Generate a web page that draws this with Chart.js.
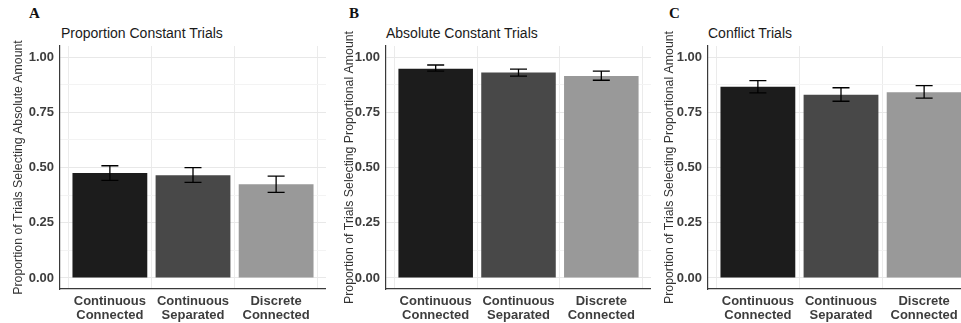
<!DOCTYPE html>
<html>
<head>
<meta charset="utf-8">
<script src="https://cdn.jsdelivr.net/npm/chart.js@4"></script>
<style>
  body { margin: 0; width: 961px; height: 323px; overflow: hidden; background: #fff; position: relative; font-family: "Liberation Sans", Arial, sans-serif; }
  canvas { position: absolute; top: 0; }
  .letter { position: absolute; top: 5px; font-family: "Liberation Serif", serif; font-weight: bold; font-size: 15px; color: #111; }
  .title { position: absolute; top: 25px; font-size: 14px; color: #1a1a1a; white-space: nowrap; }
</style>
</head>
<body>
<div class="letter" style="left:29px">A</div>
<div class="letter" style="left:349px">B</div>
<div class="letter" style="left:669px">C</div>
<div class="title" style="left:61px">Proportion Constant Trials</div>
<div class="title" style="left:386px">Absolute Constant Trials</div>
<div class="title" style="left:708px">Conflict Trials</div>
<canvas id="chartA" width="326" height="323" style="left:0px"></canvas>
<canvas id="chartB" width="325" height="323" style="left:326px"></canvas>
<canvas id="chartC" width="323" height="323" style="left:651px"></canvas>
<script>
// categories and values
const categories = [['Continuous', 'Connected'], ['Continuous', 'Separated'], ['Discrete', 'Connected']];
const barColors = ['#1c1c1c', '#484848', '#999999'];

const propConstantMeans = [0.475, 0.465, 0.424];
const propConstantLow = [0.442, 0.433, 0.387];
const propConstantHigh = [0.508, 0.499, 0.461];

const absConstantMeans = [0.947, 0.930, 0.914];
const absConstantLow = [0.936, 0.914, 0.895];
const absConstantHigh = [0.964, 0.945, 0.936];

const conflictMeans = [0.865, 0.829, 0.841];
const conflictLow = [0.838, 0.800, 0.814];
const conflictHigh = [0.893, 0.861, 0.871];

const majorTicks = [0, 0.25, 0.5, 0.75, 1];
const minorTicks = [0.125, 0.375, 0.625, 0.875];

// draws the error bars on top of the bars
const errorBars = {
    id: 'errorBars',
    afterDatasetsDraw(chart, args, opts) {
        const { ctx, scales: { x, y } } = chart;
        ctx.save();
        ctx.strokeStyle = '#000';
        ctx.lineWidth = 1.3;
        opts.low.forEach((lo, i) => {
            const px = x.getPixelForValue(i + 1);
            const yl = y.getPixelForValue(lo);
            const yh = y.getPixelForValue(opts.high[i]);
            ctx.beginPath();
            ctx.moveTo(px, yl); ctx.lineTo(px, yh);
            ctx.moveTo(px - 8.5, yl); ctx.lineTo(px + 8.5, yl);
            ctx.moveTo(px - 8.5, yh); ctx.lineTo(px + 8.5, yh);
            ctx.stroke();
        });
        ctx.restore();
    }
};

function makePanel(id, yTitle, means, low, high, axisWidth, titlePad) {
    const ctx = document.getElementById(id).getContext('2d');
    return new Chart(ctx, {
        type: 'bar',
        data: {
            datasets: [{
                data: means.map((v, i) => ({ x: i + 1, y: v })),
                backgroundColor: barColors,
                borderWidth: 0,
                barPercentage: 0.9,
                categoryPercentage: 1.0
            }]
        },
        options: {
            responsive: false,
            animation: false,
            devicePixelRatio: 1,
            layout: { padding: { top: 46, left: 0, right: 0, bottom: 0 } },
            plugins: {
                legend: { display: false },
                tooltip: { enabled: false },
                errorBars: { low: low, high: high }
            },
            scales: {
                x: {
                    type: 'linear',
                    offset: false,
                    min: 0.4,
                    max: 3.6,
                    afterBuildTicks: (scale) => { scale.ticks = categories.map((c, i) => ({ value: i + 1 })); },
                    afterFit: (scale) => { scale.height = 34; },
                    ticks: {
                        callback: (v) => categories[v - 1],
                        font: { family: '"Liberation Sans", Arial, sans-serif', size: 13, weight: 'bold', lineHeight: 1.1 },
                        color: '#3d3d3d',
                        padding: 5,
                        maxRotation: 0,
                        autoSkip: false
                    },
                    grid: { color: '#ebebeb', drawTicks: false },
                    border: { display: true, color: '#3a3a3a', width: 1.2 }
                },
                y: {
                    min: -0.05,
                    max: 1.05,
                    afterBuildTicks: (scale) => {
                        scale.ticks = majorTicks.concat(minorTicks).sort((a, b) => a - b).map(v => ({ value: v }));
                    },
                    afterFit: (scale) => { scale.width = axisWidth; },
                    ticks: {
                        callback: (v) => majorTicks.includes(v) ? v.toFixed(2) : '',
                        font: { family: '"Liberation Sans", Arial, sans-serif', size: 13, weight: 'bold' },
                        color: '#3d3d3d',
                        padding: 6
                    },
                    grid: {
                        color: (c) => majorTicks.includes(c.tick.value) ? '#e8e8e8' : '#f3f3f3',
                        drawTicks: false
                    },
                    border: { display: true, color: '#3a3a3a', width: 1.2 },
                    title: {
                        display: true,
                        text: yTitle,
                        font: { family: '"Liberation Sans", Arial, sans-serif', size: 12.3 },
                        color: '#333',
                        padding: { top: titlePad, bottom: 0 }
                    }
                }
            }
        },
        plugins: [errorBars]
    });
}

makePanel('chartA', 'Proportion of Trials Selecting Absolute Amount', propConstantMeans, propConstantLow, propConstantHigh, 60, 11);
makePanel('chartB', 'Proportion of Trials Selecting Proportional Amount', absConstantMeans, absConstantLow, absConstantHigh, 60, 16);
makePanel('chartC', 'Proportion of Trials Selecting Proportional Amount', conflictMeans, conflictLow, conflictHigh, 57, 11);
</script>
</body>
</html>
